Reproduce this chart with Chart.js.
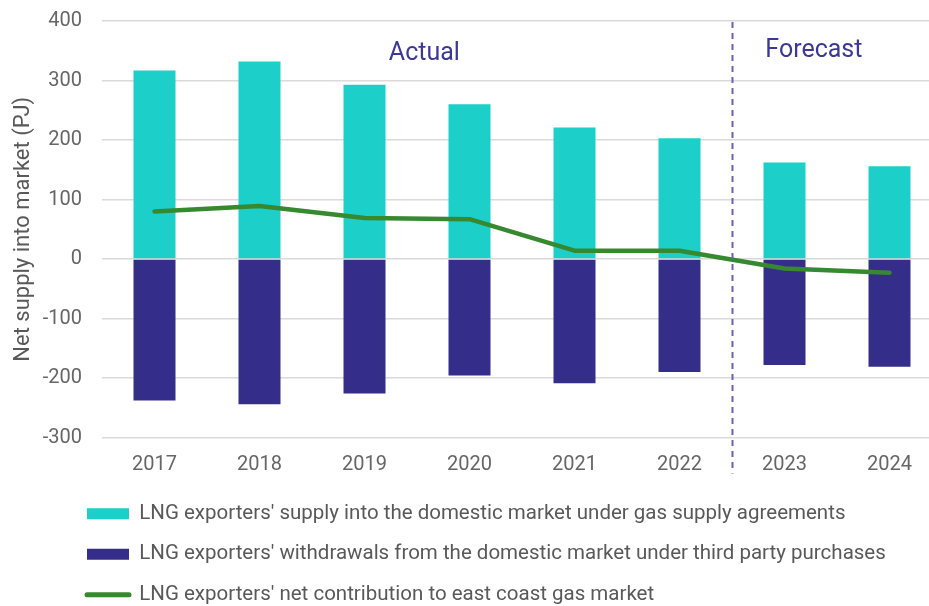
<!DOCTYPE html>
<html>
<head>
<meta charset="utf-8">
<script src="https://cdn.jsdelivr.net/npm/chart.js@4/dist/chart.umd.min.js"></script>
<style>
  html, body { margin: 0; padding: 0; background: #ffffff; overflow: hidden; }
  #wrap { position: relative; width: 945px; height: 615px; }
</style>
</head>
<body>
<div id="wrap"><canvas id="c"></canvas></div>
<script>
// ---- data ----
const categories = ['2017', '2018', '2019', '2020', '2021', '2022', '2023', '2024'];
const supplyAgreements = [317, 332, 293, 260, 221, 203, 162, 156];
const thirdPartyWithdrawals = [-238, -244, -226, -196, -209, -190, -178, -181];
const netContribution = [80, 89, 69, 67, 14, 14, -16, -23];
const seriesNames = [
  "LNG exporters' supply into the domestic market under gas supply agreements",
  "LNG exporters' withdrawals from the domestic market under third party purchases",
  "LNG exporters' net contribution to east coast gas market"
];
const yTitle = 'Net supply into market (PJ)';
const periodLabels = ['Actual', 'Forecast'];
const periodLabelX = [2.57, 6.28];   // category index positions
const periodLabelY = [345, 350];     // value positions
const forecastDivider = 5.5;         // between 2022 and 2023

const TEAL = '#1ccfc8';
const NAVY = '#342e8a';
const GREEN = '#37892f';
const GREY_TEXT = '#666666';

const overlayPlugin = {
  id: 'overlay',
  afterLayout(chart) {
    const lg = chart.legend;
    if (lg) { lg.left += 67; lg.right += 67; }
  },
  afterDatasetsDraw(chart) {
    const { ctx, scales: { x, y }, chartArea } = chart;
    ctx.save();
    // forecast divider
    const dx = Math.round(x.getPixelForValue(forecastDivider)) + 0.5;
    ctx.strokeStyle = '#6a63b5';
    ctx.lineWidth = 2;
    ctx.setLineDash([6, 5]);
    ctx.beginPath();
    ctx.moveTo(dx, chartArea.top + 1);
    ctx.lineTo(dx, chartArea.bottom + 36);
    ctx.stroke();
    ctx.setLineDash([]);
    // period labels
    ctx.fillStyle = '#3b3898';
    ctx.font = '25px Roboto';
    ctx.textAlign = 'center';
    ctx.textBaseline = 'middle';
    periodLabels.forEach((t, i) => {
      ctx.fillText(t, x.getPixelForValue(periodLabelX[i]), y.getPixelForValue(periodLabelY[i]));
    });
    ctx.restore();
  }
};

new Chart(document.getElementById('c'), {
  data: {
    labels: categories,
    datasets: [
      { type: 'bar', label: seriesNames[0], data: supplyAgreements, backgroundColor: TEAL,
        grouped: false, barPercentage: 0.4, categoryPercentage: 1, order: 2 },
      { type: 'bar', label: seriesNames[1], data: thirdPartyWithdrawals, backgroundColor: NAVY,
        grouped: false, barPercentage: 0.4, categoryPercentage: 1, order: 2 },
      { type: 'line', label: seriesNames[2], data: netContribution, borderColor: GREEN,
        backgroundColor: GREEN, borderWidth: 4.5, pointRadius: 0, tension: 0, fill: false,
        borderCapStyle: 'round', borderJoinStyle: 'round', order: 0 }
    ]
  },
  options: {
    responsive: true,
    maintainAspectRatio: false,
    animation: false,
    layout: { padding: { top: 21, right: 3, left: 0, bottom: 0 } },
    plugins: {
      tooltip: { enabled: false },
      legend: {
        position: 'bottom',
        align: 'start',
        labels: {
          font: { family: 'Roboto', size: 20.5 },
          color: '#595959',
          padding: 20,
          boxWidth: 42,
          boxHeight: 11,
          usePointStyle: true,
          pointStyleWidth: 42,
          generateLabels(chart) {
            return chart.data.datasets.map((ds, i) => ({
              text: ds.label,
              fillStyle: i < 2 ? ds.backgroundColor : GREEN,
              strokeStyle: i < 2 ? ds.backgroundColor : GREEN,
              lineWidth: i < 2 ? 0 : 5,
              lineCap: 'round',
              pointStyle: i < 2 ? 'rect' : 'line',
              fontColor: '#595959',
              hidden: false,
              datasetIndex: i
            }));
          }
        }
      }
    },
    scales: {
      x: {
        grid: { display: false },
        border: { display: false },
        ticks: { font: { family: 'Roboto', size: 20 }, color: GREY_TEXT, padding: 7 },
        afterFit(scale) { scale.height = 46; }
      },
      y: {
        min: -300, max: 400,
        ticks: { stepSize: 100, font: { family: 'Roboto', size: 20 }, color: GREY_TEXT, padding: 20 },
        grid: { color: '#dadada', lineWidth: 1.5, drawTicks: false },
        border: { display: false },
        title: { display: true, text: yTitle, font: { family: 'Roboto', size: 22 }, color: '#595959', padding: { top: 10, bottom: 0 } },
        afterFit(scale) { scale.width = 102; scale.paddingTop = 0; scale.paddingBottom = 0; }
      }
    }
  },
  plugins: [overlayPlugin]
});
</script>
</body>
</html>
